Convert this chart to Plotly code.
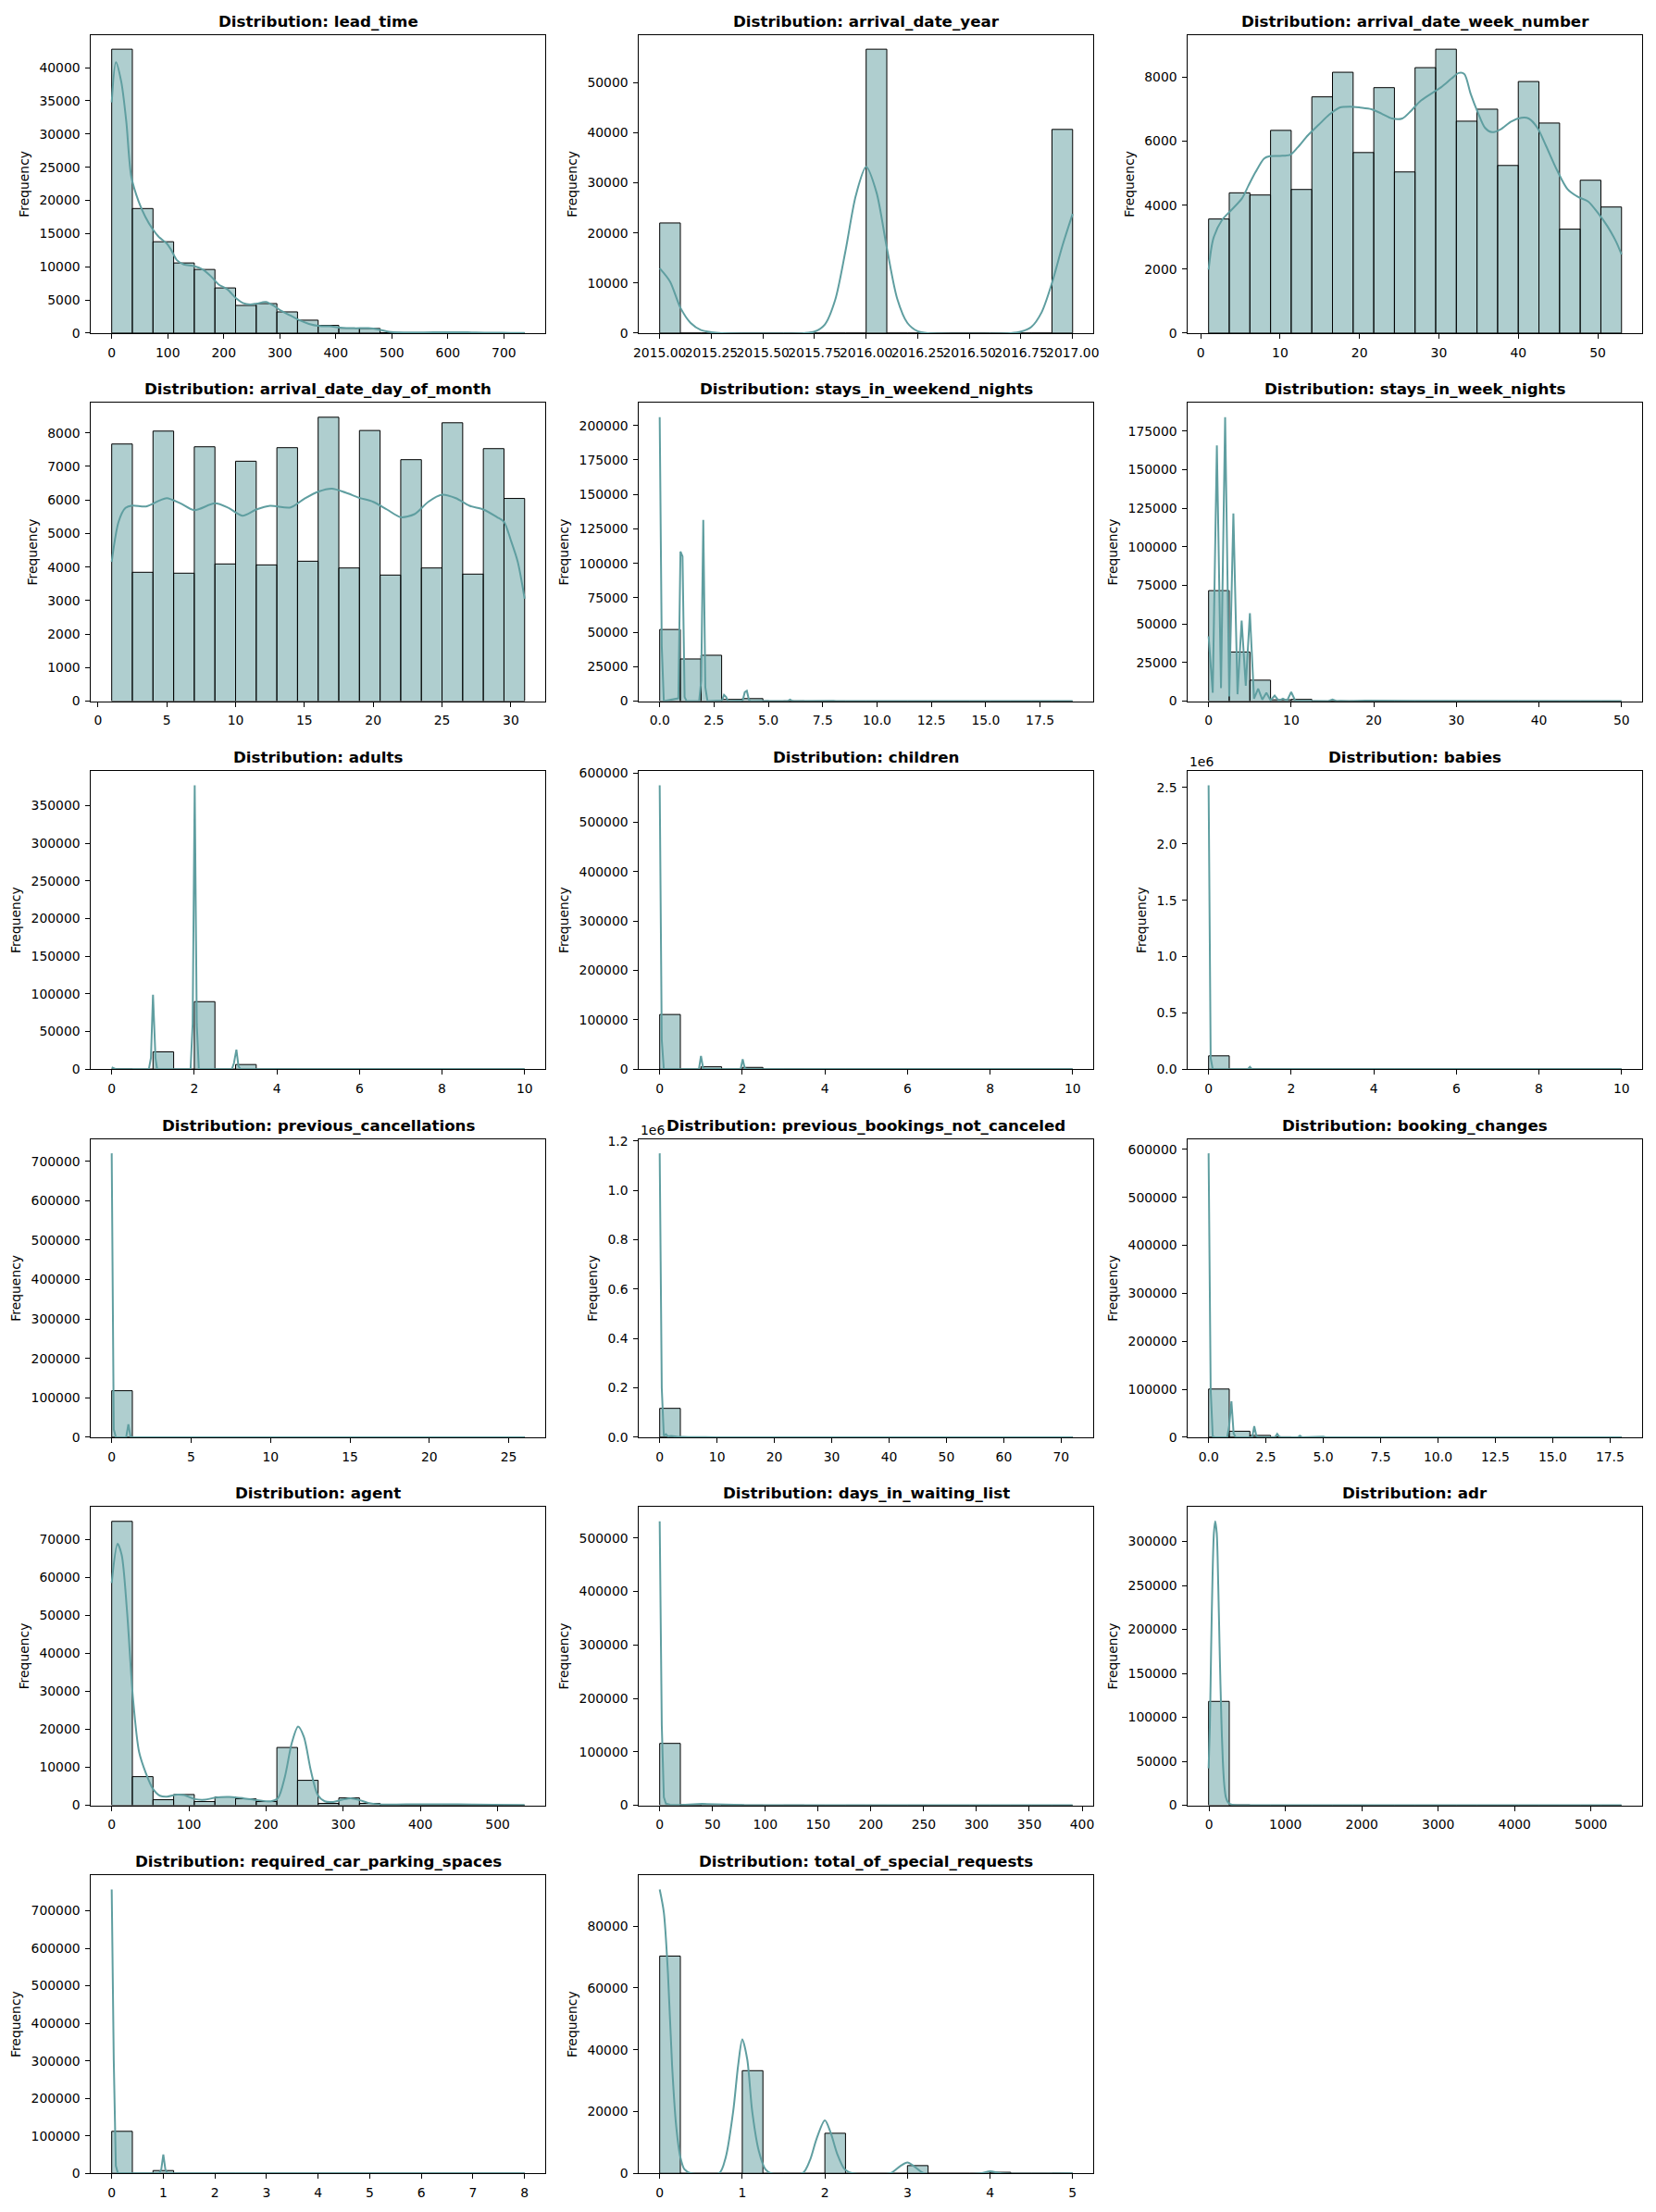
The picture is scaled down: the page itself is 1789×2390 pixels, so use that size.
import numpy as np
import plotly.graph_objects as go

# ---------------- data ----------------
# each histogram: bin range (lo, hi), 20 bin counts, KDE curve points
lead_time_range = (0, 737)
lead_time_counts = [42780, 18770, 13770, 10570, 9590, 6810, 4170, 4450, 3200, 1950,
                    1160, 740, 700, 60, 30, 25, 35, 0, 0, 5]
lead_time_kde_x = [0, 7.5, 17, 26, 35, 48, 60, 73, 85, 97.5, 107, 116, 128.6, 147, 163, 178, 191,
                   206, 222, 234, 247, 259, 275, 290, 302, 318, 334, 352, 371, 389, 408, 433,
                   458, 476, 495, 526, 557, 594, 619, 650, 681, 712, 737]
lead_time_kde_y = [34760, 40830, 37900, 31900, 23550, 19840, 17520, 15670, 14410, 13580, 12420,
                   11030, 10340, 10100, 9550, 8480, 7320, 6630, 5240, 4540, 4310, 4450, 4680,
                   4080, 3380, 2690, 1990, 1390, 1070, 1020, 830, 740, 740, 560, 185, 90, 90,
                   140, 140, 90, 50, 40, 20]

year_range = (2015, 2017)
year_counts = [21996, 0, 0, 0, 0, 0, 0, 0, 0, 0, 56707, 0, 0, 0, 0, 0, 0, 0, 0, 40687]
year_kde_x = [2015.0, 2015.05, 2015.1, 2015.15, 2015.2, 2015.25, 2015.3, 2015.7, 2015.75, 2015.8,
              2015.85, 2015.9, 2015.95, 2016.0, 2016.05, 2016.1, 2016.15, 2016.2, 2016.25,
              2016.3, 2016.7, 2016.75, 2016.8, 2016.85, 2016.9, 2016.95, 2017.0]
year_kde_y = [12950, 10300, 5090, 2025, 610, 180, 0, 0, 300, 1720, 6630, 16440, 27480, 33190,
              28100, 17050, 6930, 2020, 370, 0, 0, 300, 1230, 4170, 10000, 17360, 23800]

week_range = (1, 53)
week_counts = [3567, 4385, 4317, 6337, 4490, 7385, 8154, 5644, 7673, 5038, 8298, 8875, 6625,
               7000, 5240, 7865, 6567, 3250, 4779, 3942]
week_kde_x = [1, 1.6, 2.7, 3.8, 5.2, 6.0, 6.9, 8.0, 8.7, 10, 11.3, 12.2, 13.5, 14.9, 16.2, 17.5,
              18.8, 20.1, 21.5, 22.8, 24.1, 25.4, 26.5, 27.6, 29, 30.3, 31.6, 32.5, 33.2, 34,
              34.9, 35.8, 36.7, 37.8, 39.1, 40.4, 41.3, 42.4, 43.5, 44.9, 46.2, 47.5, 48.8,
              50.1, 51.2, 52.3, 53]
week_kde_y = [1980, 2960, 3540, 3830, 4210, 4600, 5030, 5460, 5530, 5540, 5580, 5800, 6180, 6520,
              6830, 7050, 7080, 7050, 7000, 6860, 6710, 6710, 6950, 7240, 7480, 7690, 7960, 8130,
              8100, 7480, 6900, 6420, 6280, 6375, 6615, 6730, 6710, 6420, 5850, 5080, 4500,
              4260, 4115, 3730, 3350, 2865, 2460]

day_range = (1, 31)
day_counts = [7670, 3844, 8055, 3817, 7587, 4092, 7156, 4064, 7560, 4174, 8468, 3972, 8073,
              3761, 7202, 3972, 8303, 3789, 7532, 6046]
day_kde_x = [1, 1.5, 2, 2.5, 3.5, 4.5, 5, 6, 7, 8.5, 9.5, 10.5, 11.5, 12.5, 14, 15, 16, 17, 18,
             19, 20, 21, 22, 23, 24, 25, 26, 27, 28, 29, 29.5, 30, 30.5, 31]
day_kde_y = [4156, 5349, 5761, 5835, 5807, 5990, 6055, 5899, 5697, 5899, 5761, 5532, 5716, 5826,
             5780, 6037, 6248, 6339, 6220, 6064, 5945, 5716, 5486, 5578, 5945, 6156, 6055, 5826,
             5716, 5486, 5349, 4798, 4156, 3055]

weekend_range = (0, 19)
weekend_counts = [51998, 30626, 33308, 1259, 1855, 79, 153, 19, 60, 11, 7, 0, 5, 3, 2, 0, 3, 0, 1, 1]
weekend_kde_x = [0, 0.095, 0.19, 0.86, 0.955, 1.05, 1.146, 1.24, 1.815, 1.91, 2.005, 2.1, 2.2,
                 2.865, 2.96, 3.056, 3.15, 3.82, 3.915, 4.01, 4.106, 4.2, 4.97, 5.06, 5.9, 6.0,
                 6.1, 6.2, 8.0, 8.1, 19]
weekend_kde_y = [206000, 40000, 0, 2000, 108500, 105000, 3000, 0, 0, 15000, 131500, 10000, 0,
                 500, 4500, 3000, 0, 500, 6500, 7500, 1000, 0, 300, 0, 200, 1100, 200, 0, 250, 0, 0]

weeknights_range = (0, 50)
weeknights_counts = [71639, 31821, 13605, 887, 1134, 62, 105, 50, 63, 3, 7, 0, 6, 2, 1, 0, 4, 0, 0, 1]
weeknights_kde_x = [0, 0.5, 1, 1.5, 2, 2.5, 3, 3.5, 4, 4.5, 5, 5.5, 6, 6.5, 7, 7.5, 8, 8.5, 9,
                    9.5, 10, 10.5, 11, 12, 13, 14, 14.5, 15, 15.5, 16, 17, 19, 20, 21, 22, 50]
weeknights_kde_y = [42000, 5500, 165700, 8500, 184000, 3000, 121600, 4500, 52200, 10000, 57000,
                    1600, 8100, 1000, 5500, 500, 3600, 300, 1600, 300, 5900, 200, 200, 150, 100,
                    150, 100, 1000, 100, 200, 0, 300, 300, 100, 0, 0]

adults_range = (0, 10)
adults_counts = [403, 0, 23027, 0, 89680, 0, 6202, 0, 62, 0, 2, 0, 0, 0, 0, 0, 0, 0, 0, 1]
adults_kde_x = [0, 0.05, 0.1, 0.9, 0.95, 1.0, 1.06, 1.1, 1.91, 1.96, 2.01, 2.06, 2.11, 2.91,
                2.96, 3.02, 3.07, 3.12, 4.0, 4.05, 10]
adults_kde_y = [2400, 800, 0, 0, 15000, 99000, 15000, 0, 0, 60000, 377000, 60000, 0, 0, 8000,
                26000, 4000, 0, 300, 0, 0]

children_range = (0, 10)
children_counts = [110796, 0, 4861, 0, 3652, 0, 76, 0, 0, 0, 0, 0, 0, 0, 0, 0, 0, 0, 0, 1]
children_kde_x = [0, 0.05, 0.1, 0.95, 1.0, 1.05, 1.1, 1.96, 2.01, 2.06, 2.11, 3.0, 3.1, 10]
children_kde_y = [575000, 60000, 0, 0, 26700, 3000, 0, 0, 20000, 2000, 0, 400, 0, 0]

babies_range = (0, 10)
babies_counts = [118473, 0, 900, 0, 15, 0, 0, 0, 0, 0, 0, 0, 0, 0, 0, 0, 0, 0, 1, 1]
babies_kde_x = [0, 0.05, 0.1, 0.95, 1.0, 1.05, 2.0, 10]
babies_kde_y = [2520000, 100000, 0, 0, 20000, 0, 500, 0]

prevcanc_range = (0, 26)
prevcanc_counts = [118000, 116, 65, 50, 22, 0, 0, 0, 35, 0, 26, 0, 0, 0, 19, 0, 1, 0, 48, 51]
prevcanc_kde_x = [0, 0.13, 0.26, 0.91, 1.05, 1.18, 1.31, 2.0, 2.1, 26]
prevcanc_kde_y = [720000, 20000, 0, 0, 33000, 2000, 0, 500, 0, 0]

prevbook_range = (0, 72)
prevbook_counts = [117000, 400, 150, 80, 50, 30, 20, 10, 10, 5, 5, 5, 3, 3, 2, 2, 2, 2, 1, 1]
prevbook_kde_x = [0, 0.36, 0.72, 1.09, 1.45, 2, 3, 5, 10, 72]
prevbook_kde_y = [1150000, 200000, 5000, 12000, 3000, 5000, 2000, 500, 0, 0]

changes_range = (0, 18)
changes_counts = [100500, 12500, 3800, 930, 380, 120, 60, 30, 17, 8, 5, 6, 2, 2, 5, 3, 2, 2, 2, 1]
changes_kde_x = [0, 0.09, 0.18, 0.27, 0.81, 0.9, 0.995, 1.09, 1.18, 1.9, 1.99, 2.08, 2.17, 2.9,
                 2.99, 3.08, 3.17, 3.9, 3.98, 4.07, 5.0, 5.1, 18]
changes_kde_y = [592000, 100000, 2000, 0, 0, 25000, 75000, 8000, 0, 0, 23000, 3000, 0, 0, 7000,
                 1000, 0, 0, 3000, 0, 1000, 0, 0]

agent_range = (0, 535)
agent_counts = [74700, 7530, 1460, 2830, 970, 2190, 1700, 970, 15210, 6560, 490, 1940, 500, 100,
                40, 30, 20, 30, 10, 20]
agent_kde_x = [0, 7.6, 13, 19.8, 27.4, 35.5, 44.5, 53.5, 62.5, 71.5, 85, 94, 107.5, 121, 134.4,
               152.4, 170.4, 188.4, 206.4, 215.4, 224.4, 233.4, 241.5, 249, 258, 267, 276, 287,
               298.6, 309.8, 321, 332, 345.8, 381.7, 449, 494, 535]
agent_kde_y = [58500, 68800, 65800, 51200, 28570, 14000, 8330, 4290, 2510, 2266, 2830, 2670, 1620,
               1460, 2020, 2180, 1860, 1380, 1050, 1860, 7526, 16430, 20700, 18000, 9150, 2670,
               1050, 890, 1460, 1860, 1380, 650, 240, 240, 240, 160, 80]

waiting_range = (0, 391)
waiting_counts = [115700, 900, 1500, 500, 300, 200, 300, 100, 0, 150, 100, 0, 100, 0, 0, 0, 0, 0, 0, 60]
waiting_kde_x = [0, 1.96, 3.93, 5.9, 9.8, 20, 40, 50, 60, 80, 100, 150, 175, 230, 391]
waiting_kde_y = [531000, 150000, 15000, 3000, 1000, 300, 2500, 2000, 800, 300, 200, 600, 300, 100, 0]

adr_range = (-6.38, 5400)
adr_counts = [118200, 400, 0, 0, 0, 0, 0, 0, 0, 0, 0, 0, 0, 0, 0, 0, 0, 0, 0, 1]
adr_kde_x = [-6.38, 10, 27, 45, 63, 80, 100, 120, 140, 160, 180, 200, 220, 250, 300, 400, 5400]
adr_kde_y = [42000, 90000, 180000, 260000, 310000, 323000, 310000, 250000, 170000, 100000,
             50000, 22000, 9000, 3000, 500, 0, 0]

parking_range = (0, 8)
parking_counts = [111974, 0, 7383, 0, 0, 28, 0, 3, 0, 0, 0, 0, 0, 0, 0, 0, 0, 0, 0, 2]
parking_kde_x = [0, 0.04, 0.08, 0.12, 0.92, 0.96, 1.0, 1.04, 1.08, 2.0, 2.04, 8]
parking_kde_y = [757000, 300000, 20000, 0, 0, 10000, 50000, 10000, 0, 200, 0, 0]

special_range = (0, 5)
special_counts = [70318, 0, 0, 0, 33226, 0, 0, 0, 12969, 0, 0, 0, 2497, 0, 0, 0, 340, 0, 0, 40]
special_kde_x = [0, 0.05, 0.1, 0.15, 0.2, 0.25, 0.3, 0.38, 0.72, 0.8, 0.89, 0.95, 1.0, 1.06,
                 1.12, 1.2, 1.28, 1.35, 1.73, 1.82, 1.9, 2.0, 2.07, 2.15, 2.24, 2.34, 2.79, 2.91,
                 3.0, 3.08, 3.2, 3.89, 4.0, 4.14, 5.0]
special_kde_y = [91900, 84500, 64650, 34950, 15150, 5250, 1290, 0, 0, 5250, 20100, 35000, 43370,
                 36900, 20100, 7230, 1290, 0, 0, 4260, 11190, 17100, 13170, 6240, 1290, 0, 0,
                 2280, 3470, 2280, 0, 0, 690, 0, 0]

babies_ytick_vals = [0, 500000, 1000000, 1500000, 2000000, 2500000]
babies_ytick_text = ["0.0", "0.5", "1.0", "1.5", "2.0", "2.5"]
prevbook_ytick_vals = [0, 200000, 400000, 600000, 800000, 1000000, 1200000]
prevbook_ytick_text = ["0.0", "0.2", "0.4", "0.6", "0.8", "1.0", "1.2"]

panels = [
    ("lead_time", lead_time_range, lead_time_counts, lead_time_kde_x, lead_time_kde_y),
    ("arrival_date_year", year_range, year_counts, year_kde_x, year_kde_y),
    ("arrival_date_week_number", week_range, week_counts, week_kde_x, week_kde_y),
    ("arrival_date_day_of_month", day_range, day_counts, day_kde_x, day_kde_y),
    ("stays_in_weekend_nights", weekend_range, weekend_counts, weekend_kde_x, weekend_kde_y),
    ("stays_in_week_nights", weeknights_range, weeknights_counts, weeknights_kde_x, weeknights_kde_y),
    ("adults", adults_range, adults_counts, adults_kde_x, adults_kde_y),
    ("children", children_range, children_counts, children_kde_x, children_kde_y),
    ("babies", babies_range, babies_counts, babies_kde_x, babies_kde_y),
    ("previous_cancellations", prevcanc_range, prevcanc_counts, prevcanc_kde_x, prevcanc_kde_y),
    ("previous_bookings_not_canceled", prevbook_range, prevbook_counts, prevbook_kde_x, prevbook_kde_y),
    ("booking_changes", changes_range, changes_counts, changes_kde_x, changes_kde_y),
    ("agent", agent_range, agent_counts, agent_kde_x, agent_kde_y),
    ("days_in_waiting_list", waiting_range, waiting_counts, waiting_kde_x, waiting_kde_y),
    ("adr", adr_range, adr_counts, adr_kde_x, adr_kde_y),
    ("required_car_parking_spaces", parking_range, parking_counts, parking_kde_x, parking_kde_y),
    ("total_of_special_requests", special_range, special_counts, special_kde_x, special_kde_y),
]

# ---------------- styling ----------------
style = {
    "lead_time": dict(xt0=0, xdt=100, xf="d", ydt=5000, smooth=True),
    "arrival_date_year": dict(xt0=2015, xdt=0.25, xf=".2f", ydt=10000, smooth=True),
    "arrival_date_week_number": dict(xt0=0, xdt=10, xf="d", ydt=2000, smooth=True),
    "arrival_date_day_of_month": dict(xt0=0, xdt=5, xf="d", ydt=1000, smooth=True),
    "stays_in_weekend_nights": dict(xt0=0, xdt=2.5, xf=".1f", ydt=25000, smooth=False),
    "stays_in_week_nights": dict(xt0=0, xdt=10, xf="d", ydt=25000, smooth=False),
    "adults": dict(xt0=0, xdt=2, xf="d", ydt=50000, smooth=False),
    "children": dict(xt0=0, xdt=2, xf="d", ydt=100000, smooth=False),
    "babies": dict(xt0=0, xdt=2, xf="d", yvals=babies_ytick_vals, ytext=babies_ytick_text, smooth=False),
    "previous_cancellations": dict(xt0=0, xdt=5, xf="d", ydt=100000, smooth=False),
    "previous_bookings_not_canceled": dict(xt0=0, xdt=10, xf="d", yvals=prevbook_ytick_vals,
                                           ytext=prevbook_ytick_text, smooth=False),
    "booking_changes": dict(xt0=0, xdt=2.5, xf=".1f", ydt=100000, smooth=False),
    "agent": dict(xt0=0, xdt=100, xf="d", ydt=10000, smooth=True),
    "days_in_waiting_list": dict(xt0=0, xdt=50, xf="d", ydt=100000, smooth=False),
    "adr": dict(xt0=0, xdt=1000, xf="d", ydt=50000, smooth=True),
    "required_car_parking_spaces": dict(xt0=0, xdt=1, xf="d", ydt=100000, smooth=False),
    "total_of_special_requests": dict(xt0=0, xdt=1, xf="d", ydt=20000, smooth=True),
}

W, H = 1789, 2390
COL_LEFT = [93, 689, 1286]
PW = 494
ROW_TOP = [32, 432, 832, 1232, 1632, 2032]
PH = 324
FONT = "DejaVu Sans"
BAR_FILL = "rgba(95,158,160,0.5)"
LINE_COL = "#5F9EA0"

fig = go.Figure()
layout = dict(width=W, height=H, margin=dict(l=0, r=0, t=0, b=0),
              paper_bgcolor="white", plot_bgcolor="white", showlegend=False,
              font=dict(family=FONT, size=13.9, color="black"), annotations=[])

for i, (name, rng, counts, kx, ky) in enumerate(panels):
    r, c = divmod(i, 3)
    s = style[name]
    suf = "" if i == 0 else str(i + 1)
    lo, hi = rng
    edges = np.linspace(lo, hi, len(counts) + 1)
    centers = (edges[:-1] + edges[1:]) / 2
    widths = np.diff(edges)
    fig.add_trace(go.Bar(x=centers, y=counts, width=widths,
                         marker=dict(color=BAR_FILL, line=dict(color="black", width=1)),
                         xaxis="x" + suf, yaxis="y" + suf, hoverinfo="skip"))
    fig.add_trace(go.Scatter(x=kx, y=ky, mode="lines",
                             line=dict(color=LINE_COL, width=2,
                                       shape="spline" if s["smooth"] else "linear",
                                       smoothing=0.8 if s["smooth"] else None),
                             xaxis="x" + suf, yaxis="y" + suf, hoverinfo="skip"))
    span = hi - lo
    ymax = max(max(counts), max(ky)) * 1.05
    x0 = COL_LEFT[c] / W
    x1 = (COL_LEFT[c] + PW) / W
    y1 = 1 - ROW_TOP[r] / H
    y0 = 1 - (ROW_TOP[r] + PH) / H
    common = dict(showline=True, mirror=True, linecolor="black", linewidth=1,
                  ticks="outside", ticklen=5, tickwidth=1, tickcolor="black",
                  showgrid=False, zeroline=False, ticklabelstandoff=3,
                  tickfont=dict(family=FONT, size=13.9, color="black"))
    layout["xaxis" + suf] = dict(domain=[x0, x1], anchor="y" + suf,
                                 range=[lo - 0.05 * span, hi + 0.05 * span],
                                 tickmode="linear", tick0=s["xt0"], dtick=s["xdt"],
                                 tickformat=s["xf"], tickangle=0, **common)
    yax = dict(domain=[y0, y1], anchor="x" + suf, range=[0, ymax],
               title=dict(text="Frequency", standoff=7,
                          font=dict(family=FONT, size=13.9, color="black")),
               **common)
    if "yvals" in s:
        yax.update(tickmode="array", tickvals=s["yvals"], ticktext=s["ytext"])
        layout["annotations"].append(dict(text="1e6", x=x0, y=y1, xref="paper", yref="paper",
                                          xanchor="left", yanchor="bottom", showarrow=False,
                                          font=dict(family=FONT, size=13.9, color="black")))
    else:
        yax.update(tickmode="linear", tick0=0, dtick=s["ydt"], tickformat="d")
    layout["yaxis" + suf] = yax
    layout["annotations"].append(dict(text="<b>Distribution: " + name + "</b>",
                                      x=(x0 + x1) / 2, y=y1, xref="paper", yref="paper",
                                      xanchor="center", yanchor="bottom", yshift=3,
                                      showarrow=False,
                                      font=dict(family=FONT, size=16.7, color="black")))

fig.update_layout(**layout)
fig.write_html("out.html")
